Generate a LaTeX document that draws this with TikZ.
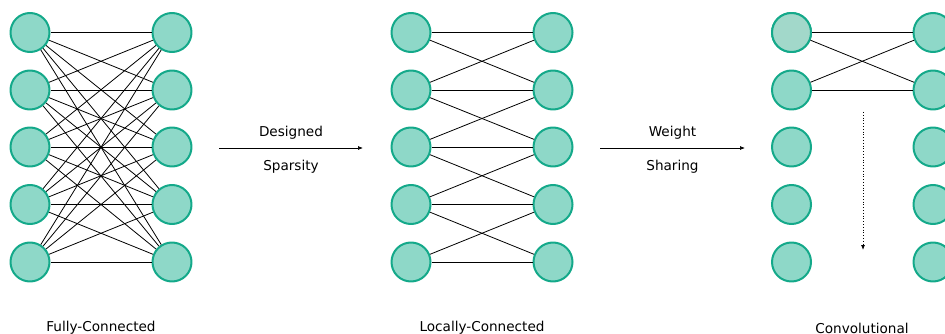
\documentclass[tikz,border=0pt]{standalone}
\usepackage{fontspec}
\setmainfont{DejaVu Sans}
\usetikzlibrary{positioning,arrows.meta}

\definecolor{unitfill}{HTML}{8ED8C8}
\definecolor{unitfilllight}{HTML}{A2D8CA}
\definecolor{unitdraw}{HTML}{14A98A}

\tikzset{
  unit/.style={circle,draw=unitdraw,fill=unitfill,line width=2pt,minimum size=39pt,inner sep=0pt},
  link/.style={black,line width=0.8pt},
  caption/.style={font=\fontsize{13.6}{16}\selectfont,inner sep=0pt},
}

\begin{document}
\begin{tikzpicture}[x=1pt,y=-1pt,>={Latex[length=5pt,width=4pt]},line join=bevel]
\useasboundingbox (0,0) rectangle (945,334);
%%
  \foreach \i/\y in {1/32.5,2/90,3/147,4/204.5,5/262} {
    \node (fc_l_\i) at (30,\y) [unit] {};
    \node (fc_r_\i) at (172,\y) [unit] {};
    \node (lc_l_\i) at (411,\y) [unit] {};
    \node (lc_r_\i) at (553,\y) [unit] {};
    \node (cv_l_\i) at (791.5,\y) [unit] {};
    \node (cv_r_\i) at (933,\y) [unit] {};
  }
  \node at (cv_l_1) [unit,fill=unitfilllight] {};

  % fully connected
  \foreach \i in {1,...,5}
    \foreach \j in {1,...,5}
      \draw [link] (fc_l_\i) -- (fc_r_\j);

  % locally connected
  \foreach \i in {1,...,5} {
    \draw [link] (lc_l_\i) -- (lc_r_\i);
  }
  \foreach \i/\j in {1/2,2/3,3/4,4/5} {
    \draw [link] (lc_l_\i) -- (lc_r_\j);
    \draw [link] (lc_l_\j) -- (lc_r_\i);
  }

  % convolutional
  \draw [link] (cv_l_1) -- (cv_r_1);
  \draw [link] (cv_l_2) -- (cv_r_2);
  \draw [link] (cv_l_1) -- (cv_r_2);
  \draw [link] (cv_l_2) -- (cv_r_1);

  \coordinate (sparse_a) at (219,148);
  \coordinate (sparse_b) at (363,148);
  \coordinate (share_a) at (600,148);
  \coordinate (share_b) at (745,148);
  \coordinate (slide_a) at (863,112);
  \coordinate (slide_b) at (863,250);

  \draw [->,line width=0.7pt] (sparse_a) -- (sparse_b)
    node [midway,above=8pt,caption] {Designed}
    node [midway,below=12pt,caption] {Sparsity};
  \draw [->,line width=0.7pt] (share_a) -- (share_b)
    node [midway,above=8pt,caption] {Weight}
    node [midway,below=12pt,caption] {Sharing};
  \draw [->,dotted,line width=0.8pt] (slide_a) -- (slide_b);

  \node (cap_fc) at (101,328) [caption] {Fully-Connected};
  \node (cap_lc) at (482,328) [caption] {Locally-Connected};
  \node (cap_cv) at (862,328) [caption] {Convolutional};
%
\end{tikzpicture}
\end{document}
